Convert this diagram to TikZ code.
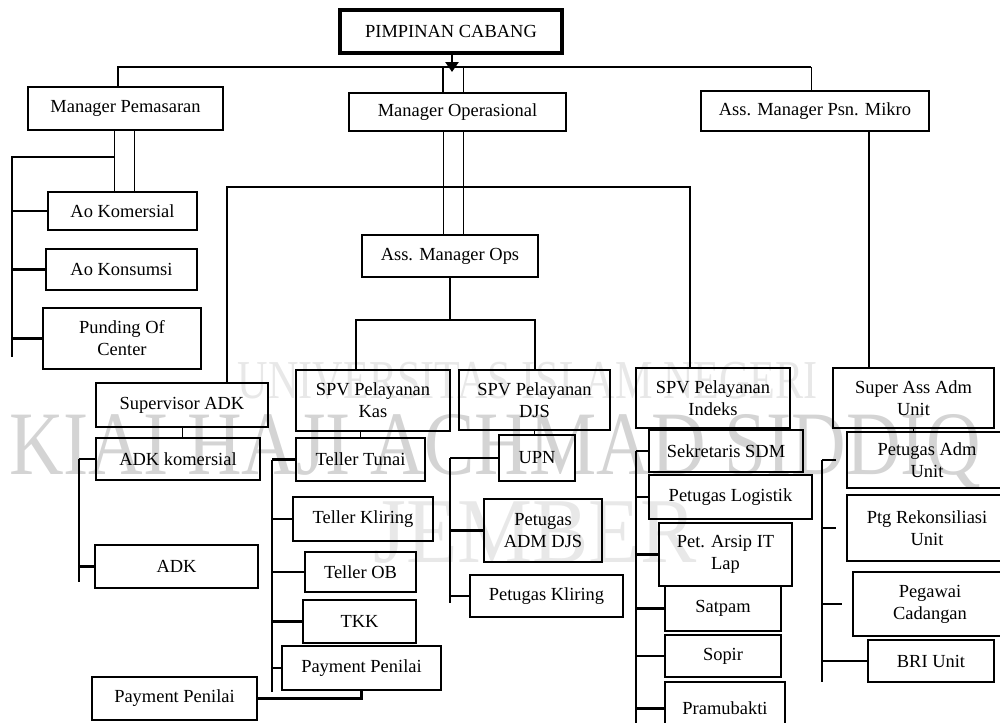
\documentclass[tikz,border=0pt]{standalone}
\usepackage{fontspec}
\setmainfont{Liberation Serif}
\usepackage{tikz}
\usetikzlibrary{arrows.meta, positioning, calc}
\definecolor{wmdark}{HTML}{D4D4D4}
\definecolor{wmlight}{HTML}{E8E8E8}

\begin{document}
\begin{tikzpicture}[
    x=0.2mm, y=-0.2mm,
    box/.style={draw=black, line width=1.6pt, align=center, inner sep=1pt,
                font=\fontsize{10.5}{12.5}\selectfont},
    dim/.style 2 args={minimum width=#1*0.2mm, minimum height=#2*0.2mm},
    conn/.style={line width=1.2pt},
    fine/.style={line width=0.5pt},
    arr/.style={-{Triangle[length=2mm, width=2.6mm]}, line width=1.4pt},
    wm/.style={inner sep=0pt}
]
\useasboundingbox (0,0) rectangle (1000,722);

% watermark
\node[wm, text=wmlight, font=\fontsize{24}{24}\selectfont, yscale=1.3] (wmuniv) at (528,381) {UNIVERSITAS ISLAM NEGERI};
\node[wm, text=wmdark, font=\fontsize{43}{43}\selectfont, yscale=1.2] (wmkiai) at (495,452) {KIAI HAJI ACHMAD SIDDIQ};
\node[wm, text=wmlight, font=\fontsize{48}{48}\selectfont, yscale=1.1] (wmjember) at (535,533) {JEMBER};

% top level
\node[box, dim={222}{43}, line width=2.6pt] (pimpinan)     at (451,31.5) {PIMPINAN CABANG};
\node[box, dim={195}{43}]                   (mpemasaran)   at (125.5,108.5) {Manager Pemasaran};
\node[box, dim={217}{38}]                   (moperasional) at (457.5,112) {Manager Operasional};
\node[box, dim={228}{40}]                   (mmikro)       at (815,111) {Ass. Manager Psn. Mikro};

% pemasaran
\node[box, dim={149}{38}] (aokom)   at (122.5,211)   {Ao Komersial};
\node[box, dim={151}{41}] (aokon)   at (121.5,269.5) {Ao Konsumsi};
\node[box, dim={158}{61}] (punding) at (122,338.5)   {Punding Of\\Center};

% operasional
\node[box, dim={176}{42}] (amops) at (450,256) {Ass. Manager Ops};

% supervisors
\node[box, dim={172}{44}] (supadk)    at (182,405)   {Supervisor ADK};
\node[box, dim={154}{61}] (spvkas)    at (373,400.5) {SPV Pelayanan\\Kas};
\node[box, dim={151}{60}] (spvdjs)    at (534.5,400) {SPV Pelayanan\\DJS};
\node[box, dim={154}{60}] (spvindeks) at (713,398)   {SPV Pelayanan\\Indeks};
\node[box, dim={161}{60}] (superass)  at (913.5,398) {Super Ass Adm\\Unit};

% adk
\node[box, dim={164}{42}] (adkkom) at (178,459)     {ADK komersial};
\node[box, dim={163}{43}] (adk)    at (176.5,566.5) {ADK};
\node[box, dim={165}{43}] (paylft) at (174.5,698.5) {Payment Penilai};

% kas
\node[box, dim={129}{43}] (tunai)    at (360.5,459.5) {Teller Tunai};
\node[box, dim={140}{44}] (tkliring) at (363,519)     {Teller Kliring};
\node[box, dim={111}{40}] (tob)      at (360.5,572)   {Teller OB};
\node[box, dim={113}{43}] (tkk)      at (359.5,621.5) {TKK};
\node[box, dim={159}{44}] (paykas)   at (361.5,668)   {Payment Penilai};

% djs
\node[box, dim={76}{46}]  (upn)      at (537,458)   {UPN};
\node[box, dim={118}{63}] (admdjs)   at (543,530.5) {Petugas\\ADM DJS};
\node[box, dim={153}{42}] (pkliring) at (546.5,596) {Petugas Kliring};

% indeks
\node[box, dim={154}{42}] (sekr)     at (726,451)   {Sekretaris SDM};
\node[box, dim={163}{44}] (logistik) at (730.5,497) {Petugas Logistik};
\node[box, dim={133}{63}] (arsip)    at (725.5,554.5) {Pet. Arsip IT\\Lap};
\node[box, dim={116}{45}] (satpam)   at (723,608.5) {Satpam};
\node[box, dim={116}{42}] (sopir)    at (723,656)   {Sopir};
\node[box, dim={120}{53}] (pramu)    at (725,708.5) {Pramubakti};

% unit
\node[box, dim={160}{56}] (petadm)   at (927,460)   {Petugas Adm\\Unit};
\node[box, dim={160}{66}] (rekon)    at (927,528)   {Ptg Rekonsiliasi\\Unit};
\node[box, dim={154}{64}] (cadangan) at (930,604)   {Pegawai\\Cadangan};
\node[box, dim={126}{42}] (bri)      at (931,661)   {BRI Unit};

% top connectors
\coordinate (hub)  at (452,72);
\coordinate (barL) at (118,67);
\coordinate (barR) at (811,67);
\coordinate (opsA) at (443,67);
\coordinate (opsB) at (463,67);
\draw[arr] (pimpinan.south -| hub) -- (hub);
\draw[conn] (barL |- mpemasaran.north) -- (barL) -- (barR);
\draw[fine] (barR) -- (barR |- mmikro.north);
\draw[conn] (opsA) -- (opsA |- moperasional.north);
\draw[fine] (opsB) -- (opsB |- moperasional.north);
\draw[fine] (opsA |- moperasional.south) -- (opsA |- amops.north);
\draw[fine] (opsB |- moperasional.south) -- (opsB |- amops.north);

% pemasaran connectors
\coordinate (pmA)   at (114,157);
\coordinate (pmB)   at (134,157);
\coordinate (pmbus) at (12,357);
\draw[fine] (pmA |- mpemasaran.south) -- (pmA |- aokom.north);
\draw[fine] (pmB |- mpemasaran.south) -- (pmB |- aokom.north);
\draw[conn] (pmA) -- (pmbus |- pmA) -- (pmbus);
\foreach \n in {aokom,aokon,punding}
    \draw[conn] (\n.west) -- (\n.west -| pmbus);

% big bracket and ops split
\coordinate (brL) at (227,187);
\coordinate (brR) at (690,187);
\coordinate (spL) at (356,320);
\coordinate (spR) at (535,320);
\coordinate (mk)  at (869,0);
\draw[conn] (brL |- supadk.north) -- (brL) -- (brR) -- (brR |- spvindeks.north);
\draw[conn] (amops.south) -- (amops.south |- spL);
\draw[conn] (spL |- spvkas.north) -- (spL) -- (spR) -- (spR |- spvdjs.north);
\draw[conn] (mk |- mmikro.south) -- (mk |- superass.north);

% supervisor to first staff
\draw[fine] (supadk.south) -- (supadk.south |- adkkom.north);
\draw[fine] (tunai.north |- spvkas.south) -- (tunai.north);
\draw[fine] (spvdjs.south) -- (spvdjs.south |- upn.north);
\draw[fine] ($(spvindeks.south)+(4,0)$) -- ($(spvindeks.south |- sekr.north)+(4,0)$);
\draw[fine] (superass.south) -- (superass.south |- petadm.north);

% staff buses
\coordinate (adkbus) at (79,582);
\coordinate (kasbus) at (272,692);
\coordinate (djsbus) at (450,603);
\coordinate (idxbus) at (636,730);
\coordinate (unitbus) at (822,682);
\draw[conn] (adkbus |- adkkom.west) -- (adkbus);
\foreach \n in {adkkom,adk}
    \draw[conn] (\n.west) -- (\n.west -| adkbus);
\draw[conn] (kasbus |- tunai.west) -- (kasbus);
\foreach \n in {tunai,tkliring,tob,tkk,paykas}
    \draw[conn] (\n.west) -- (\n.west -| kasbus);
\draw[conn] (djsbus |- upn.west) -- (djsbus);
\foreach \n in {upn,admdjs,pkliring}
    \draw[conn] (\n.west) -- (\n.west -| djsbus);
\draw[conn] (idxbus |- sekr.west) -- (idxbus);
\foreach \n in {sekr,logistik,arsip,satpam,sopir,pramu}
    \draw[conn] (\n.west) -- (\n.west -| idxbus);
\draw[conn] (unitbus |- petadm.west) -- (unitbus);
\foreach \n in {petadm,rekon,cadangan}
    \draw[conn, shorten <=2mm] (\n.west) -- (\n.west -| unitbus);
\draw[conn] (bri.west) -- (bri.west -| unitbus);
\draw[conn] (paylft.east) -| (paykas.south);
\end{tikzpicture}
\end{document}
